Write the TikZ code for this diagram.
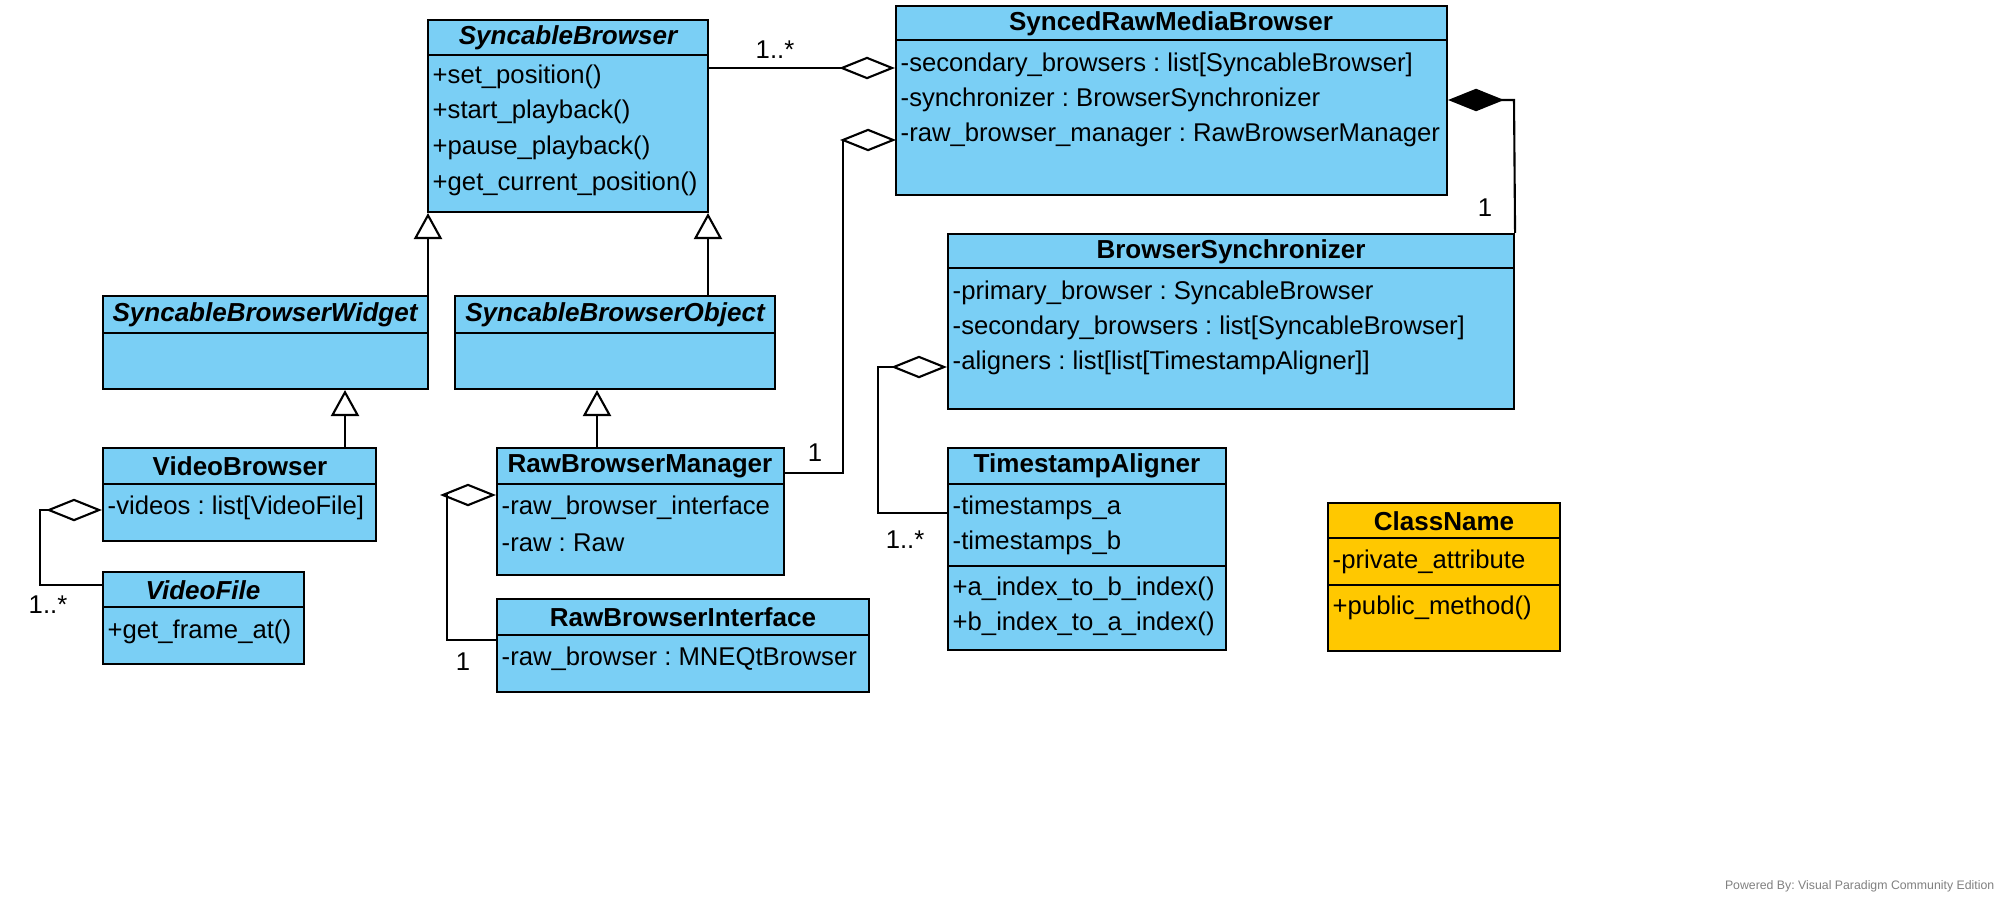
\documentclass[tikz,border=0pt]{standalone}
\usepackage{fontspec}
\setmainfont{Liberation Sans}
\usetikzlibrary{arrows.meta,fit}
\frenchspacing

\definecolor{clsblue}{RGB}{122,207,245}
\definecolor{clsyellow}{RGB}{255,200,0}

\tikzset{
  box/.style={draw, line width=0.6pt, inner sep=0pt, fill=clsblue},
  title/.style={font=\fontsize{7.4}{8}\selectfont\bfseries, inner sep=0pt},
  ititle/.style={title, font=\fontsize{7.4}{8}\selectfont\bfseries\itshape},
  member/.style={font=\fontsize{7.3}{8}\selectfont, anchor=west, inner sep=0pt},
  mult/.style={font=\fontsize{7.3}{8}\selectfont, inner sep=0pt},
  conn/.style={line width=0.6pt},
  aggr/.style={conn, {Diamond[open, length=15.9pt, width=6.4pt]}-},
  comp/.style={conn, {Diamond[length=15.9pt, width=6.4pt]}-},
  inh/.style={conn, -{Triangle[open, length=7.4pt, width=8pt]}}
}

% box: name, x1, y1, x2, y2, title line
\newcommand\umlbox[6]{
  \node[box, fit={(#2,#3) (#4,#5)}] (#1) {};
  \draw[conn] (#2,#6) -- (#4,#6);
}

\begin{document}
\begin{tikzpicture}[x=0.01cm, y=-0.01cm]
  \useasboundingbox (0,0) rectangle (2016,903);

  % classes
  \umlbox{SB}{428}{20}{708}{212}{55}
  \node[ititle] (SBt) at (568,38) {SyncableBrowser};
  \node[member] (SBm1) at (432,77) {+set\_position()};
  \node[member] (SBm2) at (432,112) {+start\_playback()};
  \node[member] (SBm3) at (432,148) {+pause\_playback()};
  \node[member] (SBm4) at (432,184) {+get\_current\_position()};

  \umlbox{SRMB}{896}{6}{1447}{195}{40}
  \node[title] (SRMBt) at (1171,24) {SyncedRawMediaBrowser};
  \node[member] (SRMBa1) at (900,65) {-secondary\_browsers : list[SyncableBrowser]};
  \node[member] (SRMBa2) at (900,100) {-synchronizer : BrowserSynchronizer};
  \node[member] (SRMBa3) at (900,135) {-raw\_browser\_manager : RawBrowserManager};

  \umlbox{SBW}{103}{296}{428}{389}{333}
  \node[ititle] (SBWt) at (265,315) {SyncableBrowserWidget};

  \umlbox{SBO}{455}{296}{775}{389}{333}
  \node[ititle] (SBOt) at (615,315) {SyncableBrowserObject};

  \umlbox{BS}{948}{234}{1514}{409}{268}
  \node[title] (BSt) at (1231,252) {BrowserSynchronizer};
  \node[member] (BSa1) at (952,293) {-primary\_browser : SyncableBrowser};
  \node[member] (BSa2) at (952,328) {-secondary\_browsers : list[SyncableBrowser]};
  \node[member] (BSa3) at (952,363) {-aligners : list[list[TimestampAligner]]};

  \umlbox{VB}{103}{448}{376}{541}{484}
  \node[title] (VBt) at (240,466) {VideoBrowser};
  \node[member] (VBa1) at (107,508) {-videos : list[VideoFile]};

  \umlbox{RBM}{497}{448}{784}{575}{484}
  \node[title] (RBMt) at (640,466) {RawBrowserManager};
  \node[member] (RBMa1) at (501,508) {-raw\_browser\_interface};
  \node[member] (RBMa2) at (501,543) {-raw : Raw};

  \umlbox{TA}{948}{448}{1226}{650}{484}
  \draw[conn] (948,566) -- (1226,566);
  \node[title] (TAt) at (1087,466) {TimestampAligner};
  \node[member] (TAa1) at (952,508) {-timestamps\_a};
  \node[member] (TAa2) at (952,543) {-timestamps\_b};
  \node[member] (TAm1) at (952,589) {+a\_index\_to\_b\_index()};
  \node[member] (TAm2) at (952,624) {+b\_index\_to\_a\_index()};

  \umlbox{VF}{103}{572}{304}{664}{607}
  \node[ititle] (VFt) at (203,590) {VideoFile};
  \node[member] (VFm1) at (107,632) {+get\_frame\_at()};

  \umlbox{RBI}{497}{599}{869}{692}{635}
  \node[title] (RBIt) at (683,617) {RawBrowserInterface};
  \node[member] (RBIa1) at (501,659) {-raw\_browser : MNEQtBrowser};

  \node[box, fill=clsyellow, fit={(1328,503) (1560,651)}] (CN) {};
  \draw[conn] (1328,538) -- (1560,538);
  \draw[conn] (1328,585) -- (1560,585);
  \node[title] (CNt) at (1444,521) {ClassName};
  \node[member] (CNa1) at (1332,562) {-private\_attribute};
  \node[member] (CNm1) at (1332,608) {+public\_method()};

  % inheritance
  \draw[inh] (SBW.north -| 428,0) -- (SB.south -| 428,0);
  \draw[inh] (SBO.north -| 708,0) -- (SB.south -| 708,0);
  \draw[inh] (VB.north -| 345,0) -- (SBW.south -| 345,0);
  \draw[inh] (RBM.north -| 597,0) -- (SBO.south -| 597,0);

  % aggregation and composition
  \draw[aggr] (SRMB.west |- 0,68) -- (SB.east |- 0,68);
  \node[mult] (m1) at (775,50) {1..*};
  \draw[aggr] (896,140) -- (843,140) -- (843,473) -- (RBM.east |- 0,473);
  \node[mult] (m2) at (815,453) {1};
  \draw[comp] (SRMB.east |- 0,100) -- (1514,100) -- (BS.north east);
  \node[mult] (m3) at (1485,208) {1};
  \draw[aggr] (VB.west |- 0,510) -- (40,510) -- (40,585) -- (VF.west |- 0,585);
  \node[mult] (m4) at (48,605) {1..*};
  \draw[aggr] (RBM.west |- 0,495) -- (447,495) -- (447,640) -- (RBI.west |- 0,640);
  \node[mult] (m5) at (463,662) {1};
  \draw[aggr] (BS.west |- 0,367) -- (878,367) -- (878,513) -- (TA.west |- 0,513);
  \node[mult] (m6) at (905,540) {1..*};

  \node[font=\fontsize{3.5}{4}\selectfont, text=gray, anchor=east, inner sep=0pt] (vp) at (1995,886) {Powered By:\ Visual Paradigm Community Edition};
\end{tikzpicture}
\end{document}
